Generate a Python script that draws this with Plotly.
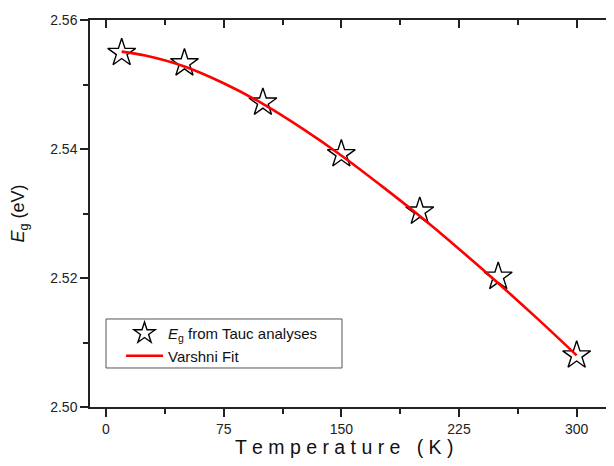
import plotly.graph_objects as go

# Data
temp_K = [10, 50, 100, 150, 200, 250, 300]
eg_eV = [2.5549, 2.5533, 2.5472, 2.5392, 2.5303, 2.5202, 2.5080]

fit_T = [10, 25, 50, 75, 100, 125, 150, 175, 200, 225, 250, 275, 300]
fit_E = [2.5551, 2.5545, 2.5528, 2.5502, 2.5470, 2.5432, 2.5390, 2.5344, 2.5296, 2.5245, 2.5192, 2.5137, 2.5080]

x_ticks = [0, 75, 150, 225, 300]
y_ticks = [2.50, 2.52, 2.54, 2.56]
y_tick_labels = ["2.50", "2.52", "2.54", "2.56"]
x_title = "T e m p e r a t u r e   ( K )"

font_family = "Liberation Sans, Arial, sans-serif"

fig = go.Figure()
fig.add_trace(go.Scatter(
    x=temp_K, y=eg_eV, mode="markers",
    name="<i>E</i><sub>g</sub> from Tauc analyses",
    marker=dict(symbol="star-open", size=21, color="black", line=dict(width=1.4, color="black")),
    legendrank=1,
))
fig.add_trace(go.Scatter(
    x=fit_T, y=fit_E, mode="lines", name="Varshni Fit",
    line=dict(color="#ff0000", width=2.6, shape="spline"),
    legendrank=2,
))
# invisible trace to host top axis
fig.add_trace(go.Scatter(x=[0], y=[2.5], xaxis="x2", mode="markers",
                         marker=dict(opacity=0), showlegend=False, hoverinfo="skip"))

xr = [-10.2, 328.9]
axis_col = "#222"
fig.update_layout(
    width=614, height=466,
    margin=dict(l=82, r=0, t=12, b=67, autoexpand=False),
    paper_bgcolor="white", plot_bgcolor="white",
    font=dict(family=font_family, size=14, color="#222"),
    showlegend=True,
    legend=dict(
        x=0.0583, y=0.2326, xanchor="left", yanchor="top",
        borderwidth=0, bgcolor="rgba(0,0,0,0)",
        font=dict(size=15, color="#111"),
        tracegroupgap=0, itemwidth=37,
    ),
    shapes=[dict(type="rect", xref="paper", yref="paper",
                 x0=0.0301, x1=0.4737, y0=0.1008, y1=0.2274,
                 line=dict(color="#555", width=1), fillcolor="rgba(0,0,0,0)", layer="above")],
    annotations=[dict(text=x_title, xref="paper", yref="paper", x=0.478, y=0,
                      xanchor="center", yanchor="middle", yshift=-40, showarrow=False,
                      font=dict(size=19.5, color="#111"))],
    xaxis=dict(
        range=xr, tickvals=x_ticks, ticktext=[str(v) for v in x_ticks],
        ticks="outside", ticklen=8, tickwidth=1.5, tickcolor=axis_col,
        showline=True, linecolor=axis_col, linewidth=1.5,
        showgrid=False, zeroline=False, automargin=False,
        minor=dict(tickvals=[37.5, 112.5, 187.5, 262.5], ticks="outside", ticklen=5, tickwidth=1.5, tickcolor=axis_col),
        tickfont=dict(size=14, color="#222"),
    ),
    xaxis2=dict(
        range=xr, overlaying="x", side="top", tickvals=x_ticks, showticklabels=False,
        ticks="inside", ticklen=8, tickwidth=1.5, tickcolor=axis_col,
        showline=True, linecolor=axis_col, linewidth=1.5,
        showgrid=False, zeroline=False, automargin=False,
        minor=dict(tickvals=[37.5, 112.5, 187.5, 262.5], ticks="inside", ticklen=5, tickwidth=1.5, tickcolor=axis_col),
    ),
    yaxis=dict(
        range=[2.50, 2.56], tickvals=y_ticks, ticktext=y_tick_labels,
        ticks="outside", ticklen=8, tickwidth=1.5, tickcolor=axis_col,
        showline=True, linecolor=axis_col, linewidth=1.5,
        showgrid=False, zeroline=False, automargin=False,
        minor=dict(tickvals=[2.51, 2.53, 2.55], ticks="outside", ticklen=5, tickwidth=1.5, tickcolor=axis_col),
        title=dict(text="<i>E</i><sub>g</sub> (eV)", font=dict(size=18, color="#111"), standoff=33),
        tickfont=dict(size=14, color="#222"),
    ),
)

fig.write_html("out.html")
